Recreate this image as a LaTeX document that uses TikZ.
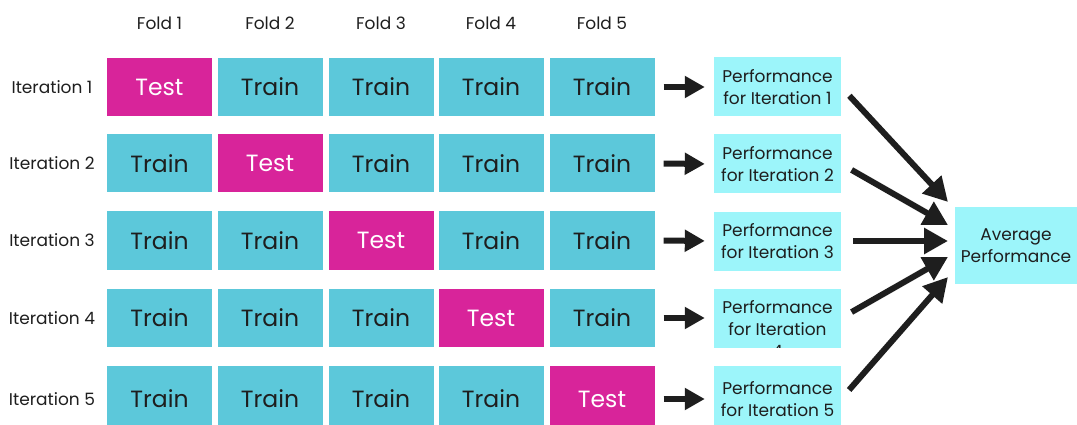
\documentclass[tikz,border=0pt]{standalone}
\usepackage{fontspec}
\setmainfont{Poppins}
\usetikzlibrary{arrows.meta,calc}
\definecolor{testc}{HTML}{D8249A}
\definecolor{trainc}{HTML}{5CC8DA}
\definecolor{perfc}{HTML}{9CF5FA}
\definecolor{ink}{HTML}{1E1E1E}
\begin{document}
\begin{tikzpicture}[x=1pt,y=-1pt,
 cell/.style={minimum width=105pt,minimum height=58pt,inner sep=0pt,font=\fontsize{23.5}{26}\selectfont},
 train/.style={cell,fill=trainc,text=ink},
 test/.style={cell,fill=testc,text=white},
 lbl/.style={font=\fontsize{17}{20}\selectfont,text=ink},
 perf/.style={fill=perfc,minimum width=127pt,minimum height=59pt,inner sep=0pt,align=center,font=\fontsize{17}{22}\selectfont,text=ink},
 ptext/.style={inner sep=0pt,align=center,font=\fontsize{17}{22}\selectfont,text=ink},
 sarrow/.style={line width=6pt,draw=ink,-{Triangle[length=20pt,width=21pt]},shorten <=9pt,shorten >=9pt},
 barrow/.style={line width=6pt,draw=ink,-{Triangle[length=24pt,width=25pt]},shorten <=12pt}]
\useasboundingbox (0,0) rectangle (1077,425);
\clip (0,0) rectangle (1077,425);
% fold labels
\foreach \c/\x in {1/159.5,2/270,3/381,4/491,5/602}
  \node[lbl] (f\c) at (\x,23.5) {Fold \c};
% rows
\foreach \r/\y/\h in {1/87/58,2/163.5/58,3/240.5/58,4/318/58,5/399/66}{
  \node[lbl] (it\r) at (52,\y) {Iteration \r};
  \foreach \c/\x in {1/159.5,2/270,3/381,4/491,5/602}{
    \ifnum\r=\c\relax\def\st{test}\def\tx{Test}\else\def\st{train}\def\tx{Train}\fi
    \node[\st,minimum height=\h pt] (c\r\c) at (\x,\y) {\tx};
  }
}
% performance boxes
\node[perf] (p1) at (777.5,87) {Performance\\for Iteration 1};
\node[perf] (p2) at (777.5,164) {Performance\\for Iteration 2};
\node[perf] (p3) at (777.5,241) {Performance\\for Iteration 3};
\node[perf] (p4) at (777.5,318) {};
\begin{scope}
  \clip (p4.north west) rectangle (p4.south east);
  \node[ptext,anchor=north] (p4t) at ($(p4.north)+(0,12)$) {Performance\\for Iteration\\4};
\end{scope}
\node[perf,minimum height=66pt] (p5) at (777.5,399) {Performance\\for Iteration 5};
% average
\node[perf,minimum width=122pt,minimum height=76pt] (avg) at (1016,245.5) {Average\\Performance};
% short arrows
\foreach \r in {1,...,5}
  \draw[sarrow] (c\r5.east) -- (p\r.west);
% target points
\coordinate (a1) at (948,202);
\coordinate (a2) at (948,225);
\coordinate (a3) at (948,241);
\coordinate (a4) at (948,257);
\coordinate (a5) at (948,277);
\foreach \r in {1,...,5}
  \draw[barrow] (p\r.east) -- (a\r);
\end{tikzpicture}
\end{document}
